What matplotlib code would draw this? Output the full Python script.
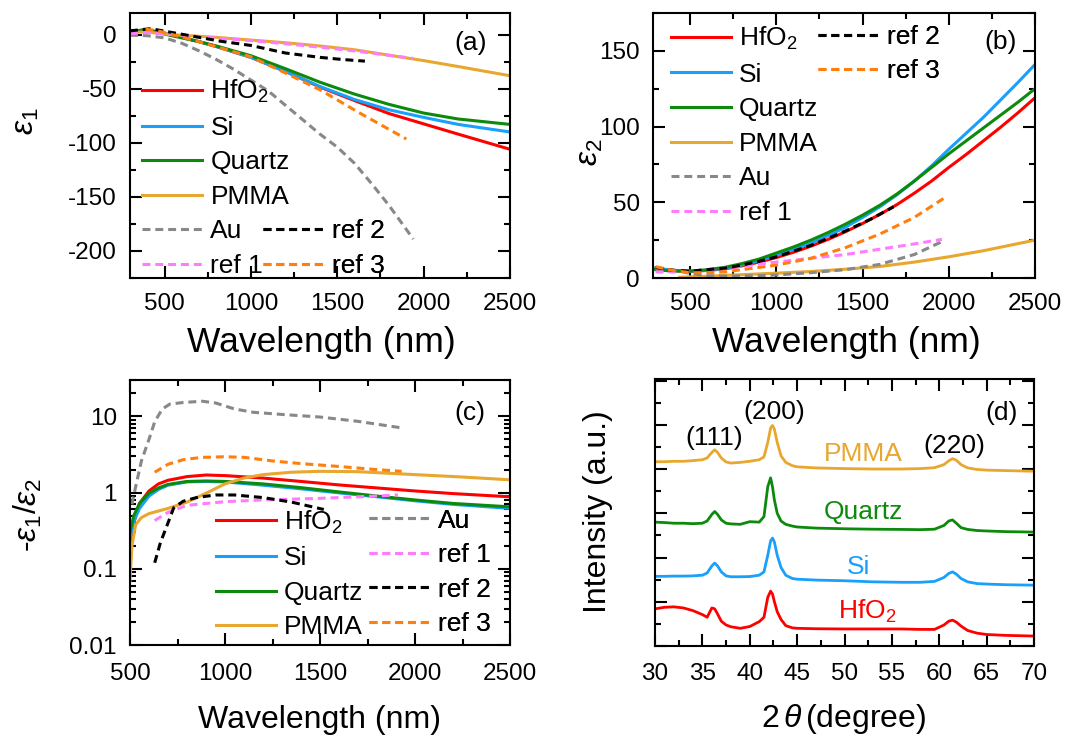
import numpy as np
import matplotlib
matplotlib.use('Agg')
import matplotlib.pyplot as plt
from matplotlib.ticker import MultipleLocator, LogLocator, FixedLocator, FixedFormatter, NullFormatter

plt.rcParams['font.family'] = ['Liberation Sans', 'DejaVu Sans']
plt.rcParams['mathtext.fontset'] = 'custom'
plt.rcParams['mathtext.rm'] = 'Liberation Sans'
plt.rcParams['mathtext.it'] = 'Liberation Sans:italic'
plt.rcParams['mathtext.bf'] = 'Liberation Sans:bold'
plt.rcParams['axes.unicode_minus'] = False

# ---------------- data ----------------
# (a) real part of permittivity
wl_a = [300, 400, 500, 600, 700, 800, 900, 1000, 1200, 1400, 1600, 1800, 2000, 2200, 2500]
e1_hfo2 = [3, 4.5, 1, -2.5, -6.5, -11, -16, -21, -34, -48.5, -61, -73, -82.5, -92, -106]
e1_si = [3, 4.5, 1, -2.5, -6.5, -11, -16, -21, -34, -48, -60, -69.5, -76.5, -83, -90]
e1_quartz = [3, 4.5, 0.5, -3, -6.5, -10.5, -15, -19.5, -31.5, -44, -55, -64.5, -72.5, -78, -83]
e1_pmma = [2, 2.5, 0.5, -0.5, -1.5, -2.5, -3.8, -5, -7.5, -10.5, -14, -19, -24, -29.5, -38]
wl_a_au = [300, 400, 500, 600, 700, 800, 900, 1000, 1100, 1250, 1400, 1500, 1600, 1700, 1800, 1940]
e1_au = [-0.5, -1, -3, -8, -15, -23, -32, -42, -52, -72, -92, -104, -119, -138, -158, -189]
wl_a_ref1 = [300, 400, 500, 700, 1000, 1300, 1600, 1940]
e1_ref1 = [1, 2, 0.5, -2, -5.5, -10, -15, -22]
wl_a_ref2 = [300, 420, 630, 820, 1000, 1200, 1400, 1530, 1660]
e1_ref2 = [3.5, 5.5, -0.5, -6, -10, -17, -21, -23, -24.5]
wl_a_ref3 = [390, 450, 630, 820, 1000, 1200, 1400, 1630, 1900]
e1_ref3 = [5, 4, -3.5, -12, -20.5, -35.5, -51, -72.5, -96.5]

# (b) imaginary part of permittivity
wl_b = [300, 400, 500, 600, 700, 800, 900, 1000, 1100, 1200, 1300, 1400, 1500, 1600, 1700,
        1800, 1900, 2000, 2100, 2200, 2300, 2400, 2500]
e2_hfo2 = [6.5, 5, 4.5, 5, 6, 8, 10.5, 13.5, 17, 21, 25.5, 30.5, 36, 42, 48.5,
           56, 64, 73, 81.5, 90.5, 99.5, 109, 119]
e2_si = [6.5, 5, 4.5, 5, 6.5, 8.5, 11.5, 15, 18.8, 23, 28, 33.5, 40, 47, 55,
         64, 74, 85, 95.5, 106, 117.5, 129, 141]
e2_quartz = [5.5, 4.5, 4.5, 5.5, 7, 9.5, 12.5, 16.5, 20.5, 25, 30, 35.5, 41.5, 48, 55.5,
             64, 73, 82, 90.5, 99, 107.5, 116, 125]
wl_b_pmma = [440, 600, 800, 1000, 1200, 1400, 1600, 1800, 2000, 2200, 2500]
e2_pmma = [0.5, 1.2, 2.2, 3.2, 4.3, 5.8, 7.6, 10.5, 14, 18, 25]
wl_b_au = [300, 400, 500, 600, 700, 900, 1000, 1200, 1400, 1600, 1800, 1960]
e2_au = [6, 5.5, 3, 1.5, 1.2, 1.5, 2, 3.5, 5.5, 9, 15.5, 24]
wl_b_ref1 = [300, 400, 500, 600, 700, 800, 1000, 1200, 1400, 1600, 1800, 1960]
e2_ref1 = [4, 4, 4.5, 5.5, 6.5, 7.8, 10.5, 13, 15.5, 19, 22.5, 25.5]
wl_b_ref2 = [300, 400, 500, 600, 700, 800, 900, 1000, 1200, 1400, 1550, 1680]
e2_ref2 = [7, 5, 4.5, 5.5, 6.5, 8.5, 11, 14, 21.5, 31, 39, 47]
wl_b_ref3 = [300, 400, 500, 600, 700, 800, 1000, 1200, 1400, 1600, 1800, 1990]
e2_ref3 = [7.5, 5, 3.5, 3.5, 4, 5.5, 8.5, 13, 20, 29, 40, 54]

# (c) -e1/e2
wl_c = [500, 520, 550, 600, 650, 700, 800, 900, 1000, 1200, 1400, 1600, 1800, 2000, 2200, 2500]
q_hfo2 = [0.17, 0.4, 0.72, 1.05, 1.3, 1.45, 1.62, 1.7, 1.67, 1.55, 1.4, 1.26, 1.15, 1.05, 0.97, 0.88]
q_si = [0.25, 0.42, 0.62, 0.9, 1.1, 1.25, 1.38, 1.4, 1.38, 1.25, 1.12, 0.99, 0.88, 0.78, 0.7, 0.62]
q_quartz = [0.3, 0.5, 0.72, 0.98, 1.15, 1.28, 1.4, 1.42, 1.4, 1.3, 1.16, 1.02, 0.9, 0.8, 0.72, 0.65]
wl_c_pmma = [500, 510, 530, 560, 600, 700, 800, 900, 1000, 1100, 1200, 1350, 1500, 1700, 2000, 2250, 2500]
q_pmma = [0.07, 0.2, 0.38, 0.47, 0.53, 0.62, 0.75, 0.98, 1.3, 1.55, 1.72, 1.85, 1.9, 1.88, 1.72, 1.6, 1.47]
wl_c_au = [510, 530, 560, 600, 630, 670, 710, 780, 880, 950, 1050, 1150, 1300, 1500, 1700, 1940]
q_au = [0.7, 1.2, 2.6, 5, 8.5, 12.5, 14.5, 15.2, 15.8, 15, 12.5, 11.3, 10.6, 9.8, 8.6, 7]
wl_c_ref1 = [630, 700, 800, 1000, 1200, 1500, 1700, 1910]
q_ref1 = [0.43, 0.55, 0.68, 0.76, 0.8, 0.84, 0.88, 0.93]
wl_c_ref2 = [630, 660, 700, 730, 780, 850, 950, 1050, 1200, 1350, 1520]
q_ref2 = [0.12, 0.22, 0.4, 0.63, 0.77, 0.86, 0.93, 0.93, 0.86, 0.75, 0.6]
wl_c_ref3 = [630, 700, 780, 880, 1000, 1100, 1250, 1400, 1600, 1800, 1930]
q_ref3 = [1.85, 2.35, 2.7, 2.9, 2.95, 2.9, 2.6, 2.4, 2.2, 2.0, 1.9]

# (d) XRD patterns (offset, a.u.)
tth = [30, 31, 32, 33, 34, 35, 35.5, 36.0, 36.3, 36.6, 37.0, 37.5, 38, 39, 40, 41, 41.5, 41.9,
       42.2, 42.4, 42.6, 42.9, 43.3, 43.8, 44.5, 45, 47, 50, 53, 56, 58, 59.5, 60.5, 61.0, 61.4,
       61.8, 62.3, 63, 64, 65, 67, 70]
xrd_pmma = [8.33, 8.33, 8.35, 8.35, 8.38, 8.42, 8.5, 8.75, 8.87, 8.75, 8.5, 8.32, 8.27, 8.3, 8.35,
            8.42, 8.55, 9.2, 9.85, 9.97, 9.8, 9.2, 8.6, 8.3, 8.15, 8.1, 8.05, 8.02, 8.0, 8.0, 8.02,
            8.06, 8.2, 8.37, 8.47, 8.4, 8.2, 8.05, 7.98, 7.95, 7.93, 7.9]
xrd_quartz = [5.6, 5.58, 5.55, 5.55, 5.53, 5.55, 5.65, 5.95, 6.08, 5.95, 5.7, 5.55, 5.52, 5.5, 5.62,
              5.6, 5.85, 7.2, 7.6, 7.2, 6.6, 6.0, 5.65, 5.5, 5.42, 5.38, 5.33, 5.3, 5.28, 5.27, 5.26,
              5.28, 5.45, 5.65, 5.7, 5.55, 5.35, 5.27, 5.22, 5.2, 5.17, 5.15]
xrd_si = [3.15, 3.15, 3.16, 3.16, 3.17, 3.2, 3.3, 3.62, 3.75, 3.62, 3.35, 3.17, 3.13, 3.13, 3.14,
          3.2, 3.35, 4.1, 4.75, 4.88, 4.7, 4.1, 3.55, 3.2, 3.05, 3.02, 2.98, 2.95, 2.9, 2.88, 2.88,
          2.92, 3.1, 3.28, 3.35, 3.25, 3.05, 2.9, 2.82, 2.8, 2.77, 2.75]
xrd_hfo2 = [1.68, 1.75, 1.77, 1.72, 1.6, 1.42, 1.3, 1.72, 1.68, 1.45, 1.12, 0.95, 0.87, 0.8, 0.88,
            1.1, 1.3, 2.2, 2.48, 2.35, 2.0, 1.55, 1.2, 0.92, 0.82, 0.8, 0.78, 0.77, 0.77, 0.77, 0.75,
            0.75, 0.95, 1.12, 1.17, 1.08, 0.9, 0.7, 0.58, 0.52, 0.48, 0.45]

names = ['HfO$_2$', 'Si', 'Quartz', 'PMMA', 'Au', 'ref 1', 'ref 2', 'ref 3']
colors = ['#ff0000', '#18a0fb', '#0c8a0c', '#e8a72e', '#888888', '#ff7cff', '#000000', '#ff7f0e']

LW = 2.2
DASH = (0, (2.6, 1.6))
FS_TICK = 17.5
FS_LEG = 19
FS_LAB_TOP = 25.5
FS_LAB = 23

fig = plt.figure(figsize=(10.67, 7.37), dpi=100)
ax_a = fig.add_axes([130 / 1067, 1 - 278 / 737, 380 / 1067, 265 / 737])
ax_b = fig.add_axes([653 / 1067, 1 - 278 / 737, 382 / 1067, 265 / 737])
ax_c = fig.add_axes([130 / 1067, 1 - 645 / 737, 380 / 1067, 265 / 737])
ax_d = fig.add_axes([655 / 1067, 1 - 646 / 737, 379 / 1067, 267 / 737])


def style(ax, padx, pady):
    ax.tick_params(which='both', direction='in', top=True, right=True, width=1.5,
                   labelsize=FS_TICK)
    ax.tick_params(which='major', length=8.5)
    ax.tick_params(which='minor', length=4.3)
    ax.tick_params(axis='x', which='both', pad=padx)
    ax.tick_params(axis='y', which='both', pad=pady)
    for s in ax.spines.values():
        s.set_linewidth(1.5)


def legend(ax, handles, x, y, loc='upper left'):
    leg = ax.legend(handles=handles, loc=loc, bbox_to_anchor=(x, y), frameon=False,
                    fontsize=FS_LEG, borderpad=0, borderaxespad=0, handlelength=2.3,
                    handletextpad=0.3, labelspacing=0.4)
    ax.add_artist(leg)
    return leg


def draw(ax, series):
    hs = []
    for i, (x, y) in enumerate(series):
        ls = '-' if i < 4 else DASH
        h, = ax.plot(x, y, color=colors[i], lw=LW, linestyle=ls, label=names[i])
        hs.append(h)
    return hs


# (a)
hs = draw(ax_a, [(wl_a, e1_hfo2), (wl_a, e1_si), (wl_a, e1_quartz), (wl_a, e1_pmma),
                 (wl_a_au, e1_au), (wl_a_ref1, e1_ref1), (wl_a_ref2, e1_ref2),
                 (wl_a_ref3, e1_ref3)])
ax_a.set_xlim(300, 2500)
ax_a.set_ylim(-225, 20)
ax_a.xaxis.set_major_locator(MultipleLocator(500))
ax_a.xaxis.set_minor_locator(MultipleLocator(250))
ax_a.yaxis.set_major_locator(MultipleLocator(50))
ax_a.yaxis.set_minor_locator(MultipleLocator(25))
style(ax_a, 10.5, 9.5)
legend(ax_a, hs[:6], 0.031, 0.0, loc='lower left')
legend(ax_a, hs[6:], 0.35, 0.0, loc='lower left')
ax_a.text(0.897, 0.886, '(a)', transform=ax_a.transAxes, fontsize=FS_LEG, ha='center', va='center')

# (b)
hs = draw(ax_b, [(wl_b, e2_hfo2), (wl_b, e2_si), (wl_b, e2_quartz), (wl_b_pmma, e2_pmma),
                 (wl_b_au, e2_au), (wl_b_ref1, e2_ref1), (wl_b_ref2, e2_ref2),
                 (wl_b_ref3, e2_ref3)])
ax_b.set_xlim(285, 2500)
ax_b.set_ylim(0, 175)
ax_b.xaxis.set_major_locator(MultipleLocator(500))
ax_b.xaxis.set_minor_locator(MultipleLocator(250))
ax_b.yaxis.set_major_locator(MultipleLocator(50))
ax_b.yaxis.set_minor_locator(MultipleLocator(25))
style(ax_b, 10.5, 9.5)
legend(ax_b, hs[:6], 0.046, 0.955)
legend(ax_b, [hs[6], hs[7]], 0.433, 0.955)
ax_b.text(0.91, 0.892, '(b)', transform=ax_b.transAxes, fontsize=FS_LEG, ha='center', va='center')

# (c)
hs = draw(ax_c, [(wl_c, q_hfo2), (wl_c, q_si), (wl_c, q_quartz), (wl_c_pmma, q_pmma),
                 (wl_c_au, q_au), (wl_c_ref1, q_ref1), (wl_c_ref2, q_ref2),
                 (wl_c_ref3, q_ref3)])
ax_c.set_yscale('log')
ax_c.set_xlim(500, 2500)
ax_c.set_ylim(0.01, 30)
ax_c.xaxis.set_major_locator(MultipleLocator(500))
ax_c.xaxis.set_minor_locator(MultipleLocator(250))
ax_c.yaxis.set_major_locator(FixedLocator([0.01, 0.1, 1, 10]))
ax_c.yaxis.set_major_formatter(FixedFormatter(['0.01', '0.1', '1', '10']))
ax_c.yaxis.set_minor_locator(LogLocator(base=10, subs=np.arange(2, 10)))
ax_c.yaxis.set_minor_formatter(NullFormatter())
style(ax_c, 13, 9.5)
legend(ax_c, hs[:4], 0.225, 0.515)
legend(ax_c, hs[4:], 0.63, 0.515)
ax_c.text(0.895, 0.874, '(c)', transform=ax_c.transAxes, fontsize=FS_LEG, ha='center', va='center')

# (d)
for y, c in [(xrd_pmma, colors[3]), (xrd_quartz, colors[2]), (xrd_si, colors[1]), (xrd_hfo2, colors[0])]:
    ax_d.plot(tth, y, color=c, lw=2.0)
ax_d.set_xlim(30, 70)
ax_d.set_ylim(0, 12.07)
ax_d.xaxis.set_major_locator(MultipleLocator(5))
ax_d.xaxis.set_minor_locator(MultipleLocator(2.5))
ax_d.yaxis.set_major_locator(MultipleLocator(2))
ax_d.yaxis.set_minor_locator(MultipleLocator(1))
ax_d.yaxis.set_major_formatter(NullFormatter())
style(ax_d, 12, 9.5)
ax_d.text(36.2, 9.4, '(111)', fontsize=FS_LEG, ha='center', va='center')
ax_d.text(42.6, 10.6, '(200)', fontsize=FS_LEG, ha='center', va='center')
ax_d.text(61.6, 9.05, '(220)', fontsize=FS_LEG, ha='center', va='center')
ax_d.text(66.6, 10.55, '(d)', fontsize=FS_LEG, ha='center', va='center')
ax_d.text(52.0, 8.7, 'PMMA', color=colors[3], fontsize=FS_LEG, ha='center', va='center')
ax_d.text(52.0, 6.05, 'Quartz', color=colors[2], fontsize=FS_LEG, ha='center', va='center')
ax_d.text(51.5, 3.57, 'Si', color=colors[1], fontsize=FS_LEG, ha='center', va='center')
ax_d.text(52.4, 1.55, 'HfO$_2$', color=colors[0], fontsize=FS_LEG, ha='center', va='center')

# axis labels
fig.text(321 / 1067, 1 - 326 / 737, 'Wavelength (nm)', fontsize=FS_LAB_TOP, ha='center', va='top')
fig.text(846 / 1067, 1 - 326 / 737, 'Wavelength (nm)', fontsize=FS_LAB_TOP, ha='center', va='top')
fig.text(320 / 1067, 1 - 705 / 737, 'Wavelength (nm)', fontsize=FS_LAB, ha='center', va='top')
fig.text(844 / 1067, 1 - 702 / 737, r'$2\,\theta\,$(degree)', fontsize=FS_LAB, ha='center', va='top')
fig.text(26 / 1067, 1 - 121 / 737, r'$\varepsilon_1$', fontsize=FS_LAB, ha='center', va='center', rotation=90)
fig.text(590 / 1067, 1 - 152 / 737, r'$\varepsilon_2$', fontsize=FS_LAB, ha='center', va='center', rotation=90)
fig.text(28 / 1067, 1 - 515 / 737, r'-$\varepsilon_1$/$\varepsilon_2$', fontsize=FS_LAB, ha='center', va='center', rotation=90)
fig.text(598 / 1067, 1 - 512 / 737, 'Intensity (a.u.)', fontsize=FS_LAB, ha='center', va='center', rotation=90)

fig.savefig('out.png', dpi=100)
